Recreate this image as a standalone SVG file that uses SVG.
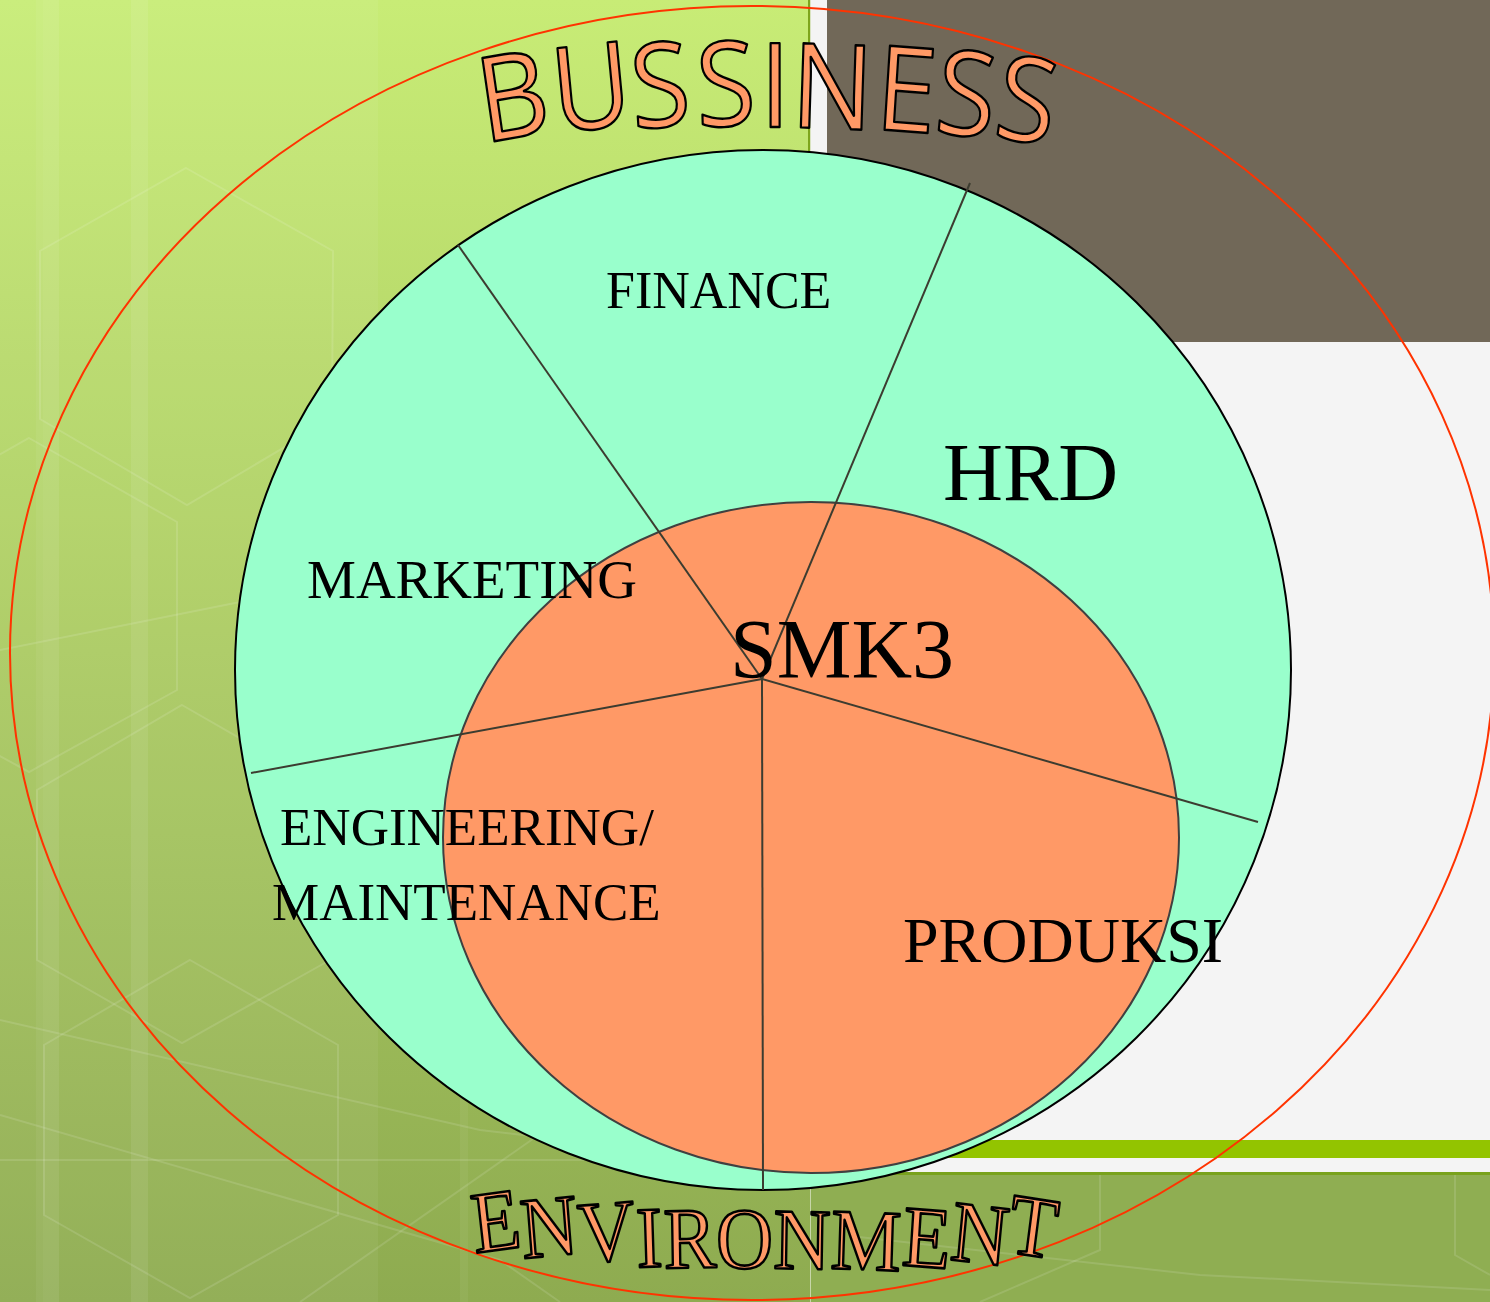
<svg xmlns="http://www.w3.org/2000/svg" width="1490" height="1302" viewBox="0 0 1490 1302">
<defs>
<linearGradient id="leftBg" x1="0" y1="0" x2="0" y2="1">
<stop offset="0" stop-color="#c8ec76"/>
<stop offset="0.5" stop-color="#abcb62"/>
<stop offset="1" stop-color="#8eab50"/>
</linearGradient>
<style>
.sector{fill:#99ffcc;stroke:#000;stroke-width:2}
.core{fill:#ff9966;stroke:#404040;stroke-width:2}
.div{stroke:#3c3c30;stroke-width:2;fill:none}
.lbl{font-family:"Liberation Serif","Times New Roman",serif;fill:#000}
.faint{fill:none;stroke:#ffffff;stroke-opacity:0.12;stroke-width:2}
.art{fill:#ff9966;stroke:#000;stroke-width:2.4;stroke-linejoin:round}
</style>
</defs>
<g id="background">
<rect x="0" y="0" width="810" height="1302" fill="url(#leftBg)"/>
<rect x="0" y="0" width="378" height="1302" fill="#ffffff" fill-opacity="0.05"/>
<rect x="36" y="0" width="7" height="1302" fill="#ffffff" fill-opacity="0.05"/>
<rect x="43" y="0" width="16" height="1302" fill="#ffffff" fill-opacity="0.08"/>
<rect x="131" y="0" width="17" height="1302" fill="#ffffff" fill-opacity="0.08"/>
<rect x="460" y="700" width="8" height="602" fill="#ffffff" fill-opacity="0.05"/>
<polygon class="faint" points="186,168 333,251 332,419 187,505 40,419 40,251"/>
<polygon class="faint" points="29,438 177,522 177,690 29,772 -120,690 -120,522"/>
<polygon class="faint" points="182,705 330,790 330,960 182,1043 37,960 37,790"/>
<polygon class="faint" points="190,960 338,1045 338,1215 190,1298 44,1215 44,1045"/>
<polyline class="faint" points="0,650 250,600 400,560"/>
<polyline class="faint" points="0,1020 480,1130 900,1180"/>
<polyline class="faint" points="0,1160 480,1160 1490,1160"/>
<polyline class="faint" points="0,1115 500,1260 560,1302"/>
<polyline class="faint" points="300,1302 560,1120"/>
<rect x="808" y="0" width="2.5" height="1175" fill="#7ea51c"/>
<rect x="810.5" y="0" width="680" height="1172" fill="#f4f4f4"/>
<rect x="827" y="0" width="663" height="342" fill="#716858"/>
<rect x="810.5" y="1140" width="680" height="18" fill="#93c400"/>
<rect x="810.5" y="1172" width="680" height="3" fill="#79a21d"/>
<rect x="810.5" y="1175" width="680" height="127" fill="#8fae52"/>
<polyline class="faint" points="1100,1175 1100,1250 980,1302"/>
<polyline class="faint" points="1455,1175 1455,1255 1490,1275"/>
<polyline class="faint" points="850,1236 1200,1275 1490,1290"/>
</g>
<g id="environment-ring">
<ellipse cx="752" cy="653" rx="742" ry="647" fill="none" stroke="#ff3300" stroke-width="2"/>
</g>
<g id="departments">
<ellipse class="sector" cx="763" cy="670" rx="528" ry="520"/>
</g>
<g id="smk3-core">
<ellipse class="core" cx="811" cy="837.5" rx="368" ry="335.5"/>
</g>
<g id="connectors">
<line class="div" x1="762" y1="679" x2="458" y2="245"/>
<line class="div" x1="762" y1="679" x2="970" y2="183"/>
<line class="div" x1="762" y1="679" x2="251" y2="773"/>
<line class="div" x1="762" y1="679" x2="1258" y2="822"/>
<line class="div" x1="762" y1="679" x2="763" y2="1190"/>
</g>
<g id="node-finance"><text class="lbl" x="606" y="308" font-size="52">FINANCE</text></g>
<g id="node-marketing"><text class="lbl" x="307" y="598" font-size="55">MARKETING</text></g>
<g id="node-hrd"><text class="lbl" x="943" y="500" font-size="83">HRD</text></g>
<g id="node-smk3"><text class="lbl" x="730" y="678" font-size="84">SMK3</text></g>
<g id="node-engineering"><text class="lbl" font-size="53"><tspan x="280" y="845">ENGINEERING/</tspan><tspan x="272" y="920">MAINTENANCE</tspan></text></g>
<g id="node-produksi"><text class="lbl" x="903" y="962" font-size="64">PRODUKSI</text></g>
<g id="title-business">
<text class="art" transform="scale(0.92 1)" font-family="'Open Sans','DejaVu Sans',sans-serif" font-size="118" x="526 604 688 758 826 859 950 1014 1078" y="143 133 129 127 127 127 129 132 136" rotate="-9 -6 -4 -2 0 2 4 6 9">BUSSINESS</text>
</g>
<g id="title-environment">
<text class="art" transform="scale(1 1.1)" font-family="'Liberation Serif','Times New Roman',serif" font-size="79" x="475 523 580 637 664 716 773 830 901 949 1006" y="1139 1144 1148 1152 1153 1153 1153 1153 1150 1145 1138" rotate="-7 -5 -4 -2 -1 0 1 2 4 6 8">ENVIRONMENT</text>
</g>
</svg>
